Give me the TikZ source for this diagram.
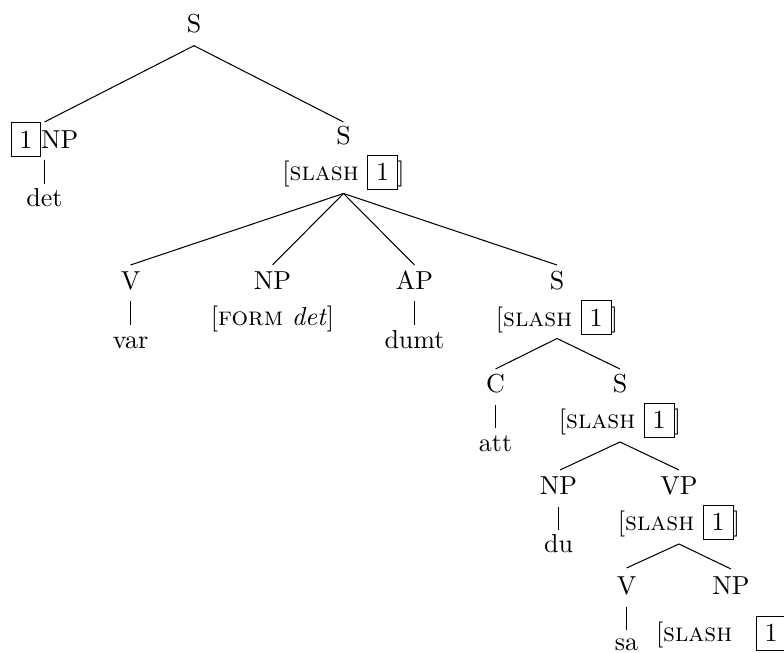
\documentclass[tikz,border=0pt]{standalone}
\begin{document}
\begin{tikzpicture}[x=0.3846pt,y=-0.3846pt,
  lab/.style={anchor=base,inner sep=0pt,outer sep=0pt},
  labw/.style={anchor=base west,inner sep=0pt,outer sep=0pt},
  edge/.style={line width=0.4pt}]
\useasboundingbox (0,0) rectangle (784,653);
\clip (0,0) rectangle (784,653);
\newcommand{\slashavm}{[\textsc{slash} \fbox{1}\kern-0.3pt]}
% labels
\node[lab] (root) at (194,33) {S};
\node[lab] (np1) at (44.5,148.5) {\fbox{1}NP};
\node[lab] (det) at (44.5,207) {det};
\node[lab] (s1) at (343.5,145) {S};
\node[lab] (s1f) at (343.5,180.8) {\slashavm};
\node[lab] (v1) at (130.5,290) {V};
\node[lab] (var) at (130.5,348.5) {var};
\node[lab] (np2) at (272.5,290) {NP};
\node[lab] (np2f) at (272.5,326) {[\textsc{form} \textit{det}]};
\node[lab] (ap) at (414.5,290) {AP};
\node[lab] (dumt) at (414.5,348.5) {dumt};
\node[lab] (s2) at (557,290) {S};
\node[lab] (s2f) at (557,326.5) {\slashavm};
\node[lab] (c) at (495.5,393) {C};
\node[lab] (att) at (495.5,452) {att};
\node[lab] (s3) at (620,393) {S};
\node[lab] (s3f) at (620,429) {\slashavm};
\node[lab] (np3) at (558.5,495) {NP};
\node[lab] (du) at (558.5,553) {du};
\node[lab] (vp) at (679,495) {VP};
\node[lab] (vpf) at (679,531) {\slashavm};
\node[lab] (v2) at (626.5,595) {V};
\node[lab] (sa) at (626.5,651) {sa};
\node[lab] (np4) at (731,595) {NP};
\node[labw] (np4f) at (656,642) {[\textsc{slash}\hspace{9pt}\fbox{1}\kern-0.3pt]};
% connector end points
\coordinate (root-b) at (194,45.7);
\coordinate (np1-t) at (44.5,122);
\coordinate (np1-b) at (44.5,160);
\coordinate (det-t) at (44.5,184);
\coordinate (s1-t) at (343.5,122);
\coordinate (s1f-b) at (343.5,193.5);
\coordinate (v1-t) at (130.5,265);
\coordinate (v1-b) at (130.5,301.5);
\coordinate (var-t) at (130.5,325.5);
\coordinate (np2-t) at (272.5,265);
\coordinate (ap-t) at (414.5,265);
\coordinate (ap-b) at (414.5,301.5);
\coordinate (dumt-t) at (414.5,325.5);
\coordinate (s2-t) at (557,265);
\coordinate (s2f-b) at (557,338.5);
\coordinate (c-t) at (495.5,369);
\coordinate (c-b) at (495.5,405);
\coordinate (att-t) at (495.5,428);
\coordinate (s3-t) at (620,369);
\coordinate (s3f-b) at (620,442);
\coordinate (np3-t) at (560,470);
\coordinate (np3-b) at (558.5,507);
\coordinate (du-t) at (558.5,530);
\coordinate (vp-t) at (679,470);
\coordinate (vpf-b) at (679,544);
\coordinate (v2-t) at (626.5,568);
\coordinate (v2-b) at (626.5,607);
\coordinate (sa-t) at (626.5,630);
\coordinate (np4-t) at (731,569);
% edges
\draw[edge] (np1-t) -- (root-b) -- (s1-t);
\draw[edge] (np1-b) -- (det-t);
\draw[edge] (s1f-b) -- (v1-t);
\draw[edge] (s1f-b) -- (np2-t);
\draw[edge] (s1f-b) -- (ap-t);
\draw[edge] (s1f-b) -- (s2-t);
\draw[edge] (v1-b) -- (var-t);
\draw[edge] (ap-b) -- (dumt-t);
\draw[edge] (c-t) -- (s2f-b) -- (s3-t);
\draw[edge] (c-b) -- (att-t);
\draw[edge] (np3-t) -- (s3f-b) -- (vp-t);
\draw[edge] (np3-b) -- (du-t);
\draw[edge] (v2-t) -- (vpf-b) -- (np4-t);
\draw[edge] (v2-b) -- (sa-t);
\end{tikzpicture}
\end{document}
